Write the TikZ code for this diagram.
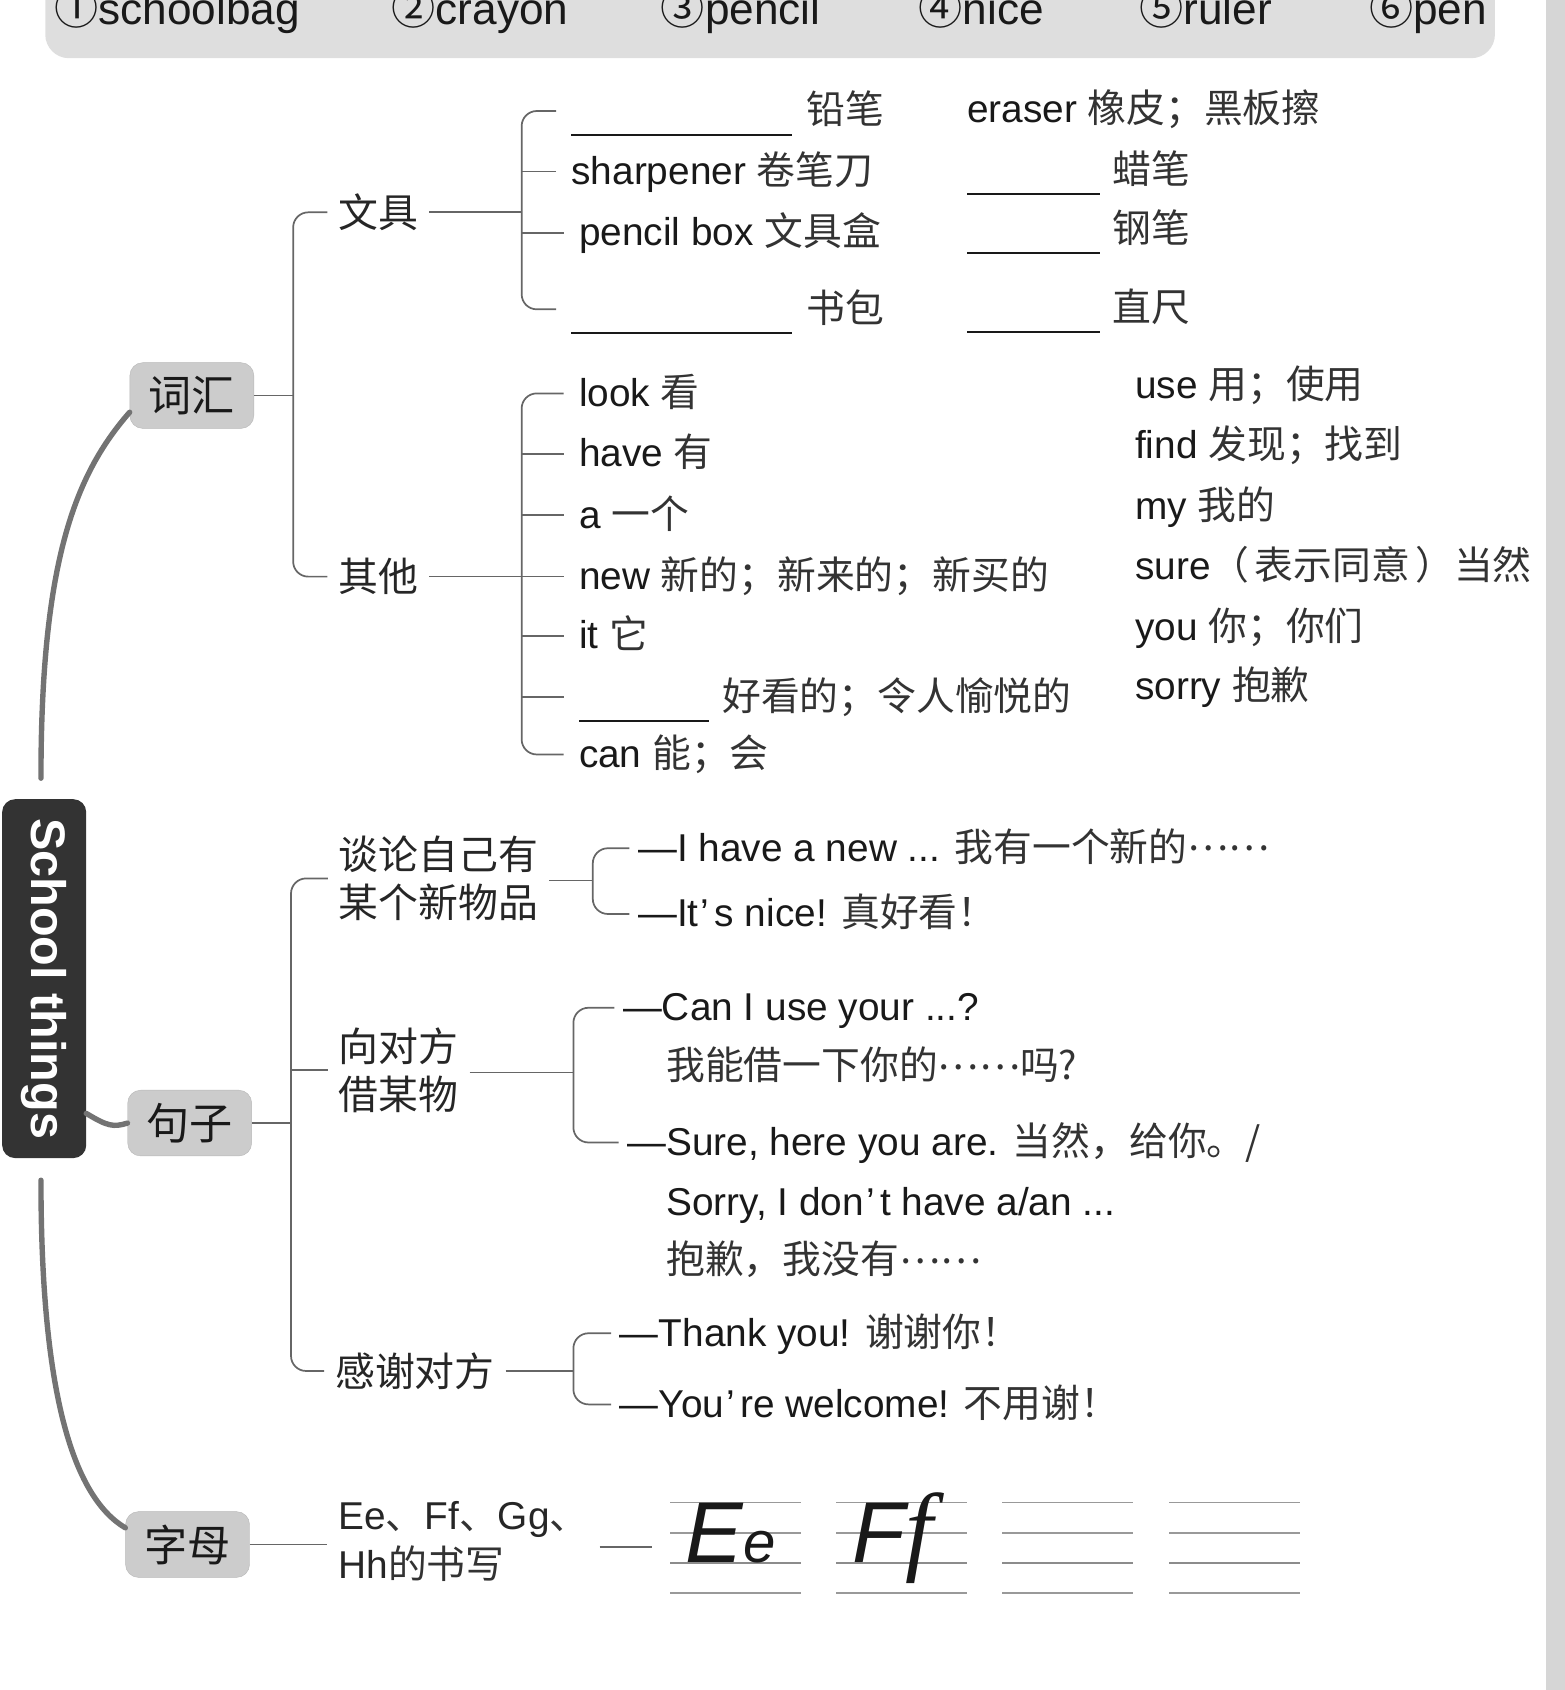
\documentclass[tikz,border=0pt]{standalone}
\usepackage{fontspec}
\setmainfont{Liberation Sans}
\newfontfamily\cjk{Noto Sans CJK SC}
\newfontfamily\tnr{Liberation Serif}
\newcommand*{\zh}[1]{{\cjk\color{black!80}#1}}
\newcommand*{\blank}[1]{\rule[-11pt]{#1}{1.8pt}}
\newcommand*{\mdots}{\raisebox{10pt}{\zh{……}}}
\newcommand*{\apos}{\hspace{2pt}’\hspace{5pt}}

\begin{document}
\begin{tikzpicture}
[
	x=1pt,
	y=-1pt,
	font=\fontsize{36}{45}\selectfont,
	text=black!90,
	trunk/.style={line width=5pt,draw=black!55,line cap=round},
	rootbox/.style={fill=black!80,rounded corners=12pt,minimum width=333pt,minimum height=78pt,text=white,font=\fontsize{45}{45}\selectfont\bfseries},
	cat/.style={fill=black!20,draw=black!28,rounded corners=12pt,minimum width=115pt,minimum height=61pt,font=\fontsize{40}{40}\selectfont\cjk},
	sub/.style={inner xsep=10pt,inner ysep=2pt,align=left,text=black!85,font=\fontsize{37}{45}\selectfont\cjk},
	brk/.style={draw=black!60,line width=1.6pt,rounded corners=14pt},
	leaf/.style={anchor=west,inner xsep=14pt,inner ysep=0pt,text height=30pt,text depth=6pt},
	say/.style={anchor=west,inner xsep=8pt,inner ysep=0pt,text height=30pt,text depth=6pt},
	note/.style={anchor=west,inner sep=0pt,text height=30pt,text depth=6pt},
	line4/.style={draw=black!40,line width=1.6pt}
]

	\useasboundingbox (0,0) rectangle (1452,1568);

	% answer bar
	\fill[black!13,rounded corners=22pt] (42,-40) rectangle (1387,54);
	\foreach \x/\num/\word [count=\k] in {50/①/schoolbag,363/②/crayon,613/③/pencil,852/④/nice,1057/⑤/ruler,1270/⑥/pen} {
		\node[anchor=base west,inner sep=0pt,font=\fontsize{41}{41}\selectfont] (opt\k) at (\x,23) {{\cjk\num}\word};
	}
	\fill[black!16] (1434,0) rectangle (1452,1568);

	% centre and main branches
	\node[rootbox,rotate=-90] (root) at (41,908) {School things};
	\node[cat] (cihui) at (178,367) {词汇};
	\node[cat] (juzi) at (176,1042) {句子};
	\node[cat] (zimu) at (174,1433) {字母};
	\coordinate (uptip) at (38,722);
	\coordinate (downtip) at (38,1095);
	\coordinate (rootr) at (80,1033);
	\draw[trunk] (uptip) .. controls (38,520) and (70,440) .. (cihui.195);
	\draw[trunk] (rootr) .. controls (100,1045) and (105,1046) .. (juzi.west);
	\draw[trunk] (downtip) .. controls (38,1300) and (70,1390) .. (zimu.165);

	% vocabulary
	\node[sub] (wenju) at (351,197) {文具};
	\node[sub] (qita) at (351,535) {其他};
	\coordinate (vspine) at (272,367);
	\draw[brk] (cihui.east) -- (vspine);
	\draw[brk] (wenju.west) -| (vspine) |- (qita.west);

	\node[leaf] (w1) at (516,103) {\blank{205pt}\hspace{13pt}\zh{铅笔}};
	\node[leaf] (w2) at (516,159) {sharpener \zh{卷笔刀}};
	\node[leaf] (w3) at (523,216) {pencil box \zh{文具盒}};
	\node[leaf] (w4) at (516,287) {\blank{205pt}\hspace{13pt}\zh{书包}};
	\coordinate (wspine) at (484,197);
	\draw[brk] (wenju.east) -- (wspine);
	\draw[brk] (w1.west) -| (wspine) |- (w4.west);
	\draw[brk] (w2.west) -- (w2.west -| wspine);
	\draw[brk] (w3.west) -- (w3.west -| wspine);

	\node[note] (e1) at (897,102) {eraser \zh{橡皮；黑板擦}};
	\node[note] (e2) at (897,158) {\blank{123pt}\hspace{12pt}\zh{蜡笔}};
	\node[note] (e3) at (897,213) {\blank{123pt}\hspace{12pt}\zh{钢笔}};
	\node[note] (e4) at (897,286) {\blank{123pt}\hspace{12pt}\zh{直尺}};

	\node[leaf] (q1) at (523,365) {look \zh{看}};
	\node[leaf] (q2) at (523,421) {have \zh{有}};
	\node[leaf] (q3) at (523,478) {a \zh{一个}};
	\node[leaf] (q4) at (523,535) {new \zh{新的；新来的；新买的}};
	\node[leaf] (q5) at (523,590) {it \zh{它}};
	\node[leaf] (q6) at (523,647) {\blank{121pt}\hspace{12pt}\zh{好看的；令人愉悦的}};
	\node[leaf] (q7) at (523,700) {can \zh{能；会}};
	\coordinate (qspine) at (484,535);
	\draw[brk] (qita.east) -- (qspine);
	\draw[brk] (q1.west) -| (qspine) |- (q7.west);
	\foreach \k in {2,...,6} {
		\draw[brk] (q\k.west) -- (q\k.west -| qspine);
	}

	\node[note] (o1) at (1053,358) {use \zh{用；使用}};
	\node[note] (o2) at (1053,413) {find \zh{发现；找到}};
	\node[note] (o3) at (1053,470) {my \zh{我的}};
	\node[note] (o4) at (1053,526) {sure\zh{（\hspace{5pt}表示同意\hspace{5pt}）当然}};
	\node[note] (o5) at (1053,582) {you \zh{你；你们}};
	\node[note] (o6) at (1053,637) {sorry \zh{抱歉}};

	% sentences
	\node[sub] (tanlun) at (407,815) {谈论自己有\\某个新物品};
	\node[sub] (xiang) at (370,993) {向对方\\借某物};
	\node[sub] (ganxie) at (385,1272) {感谢对方};
	\coordinate (sspine) at (270,1042);
	\draw[brk] (juzi.east) -- (sspine);
	\draw[brk] (tanlun.west) -| (sspine) |- (ganxie.west);
	\draw[brk] (xiang.west) -- (xiang.west -| sspine);

	\node[say] (t1) at (584,787) {—I have a new ... \zh{我有一个新的}\mdots};
	\node[say] (t2) at (584,848) {—It\apos s nice! \zh{真好看！}};
	\coordinate (tspine) at (550,817);
	\draw[brk] (tanlun.east |- tspine) -- (tspine);
	\draw[brk] (t1.west) -| (tspine) |- (t2.west);

	\node[say] (x1) at (570,935) {—Can I use your ...?};
	\node[note] (x2) at (618,990) {\zh{我能借一下你的}\mdots\zh{吗?}};
	\node[say] (x3) at (574,1060) {—Sure, here you are. \zh{当然，给你。/}};
	\node[note] (x4) at (618,1116) {Sorry, I don\apos t have a/an ...};
	\node[note] (x5) at (618,1170) {\zh{抱歉，我没有}\mdots};
	\coordinate (xspine) at (532,995);
	\draw[brk] (xiang.east |- xspine) -- (xspine);
	\draw[brk] (x1.west) -| (xspine) |- (x3.west);

	\node[say] (g1) at (567,1237) {—Thank you! \zh{谢谢你！}};
	\node[say] (g2) at (567,1303) {—You\apos re welcome! \zh{不用谢！}};
	\coordinate (gspine) at (532,1272);
	\draw[brk] (ganxie.east) -- (gspine);
	\draw[brk] (g1.west) -| (gspine) |- (g2.west);

	% letters
	\node[sub,font=\fontsize{36}{45}\selectfont] (shuxie) at (430,1430) {Ee\zh{、}Ff\zh{、}Gg\zh{、}\\Hh\zh{的书写}};
	\coordinate (gridin) at (605,1435);
	\draw[brk] (zimu.east) -- (zimu.east -| shuxie.west);
	\draw[brk] (shuxie.east |- gridin) -- (gridin);

	\foreach \gx in {622,776,930,1085} {
		\foreach \gy in {1394,1422,1478} {
			\draw[line4] (\gx,\gy) -- ++(121,0);
		}
		\draw[line4,line width=2.4pt,draw=black!45] (\gx,1450) -- ++(121,0);
	}
	\node[anchor=base west,inner sep=0pt,font=\fontsize{80}{80}\selectfont\itshape] (ee) at (636,1450) {E{\fontsize{54}{54}\selectfont e}};
	\node[anchor=base west,inner sep=0pt,font=\fontsize{80}{80}\selectfont\itshape] (ff) at (791,1450) {F{\tnr\fontsize{92}{92}\selectfont f}};

\end{tikzpicture}
\end{document}
